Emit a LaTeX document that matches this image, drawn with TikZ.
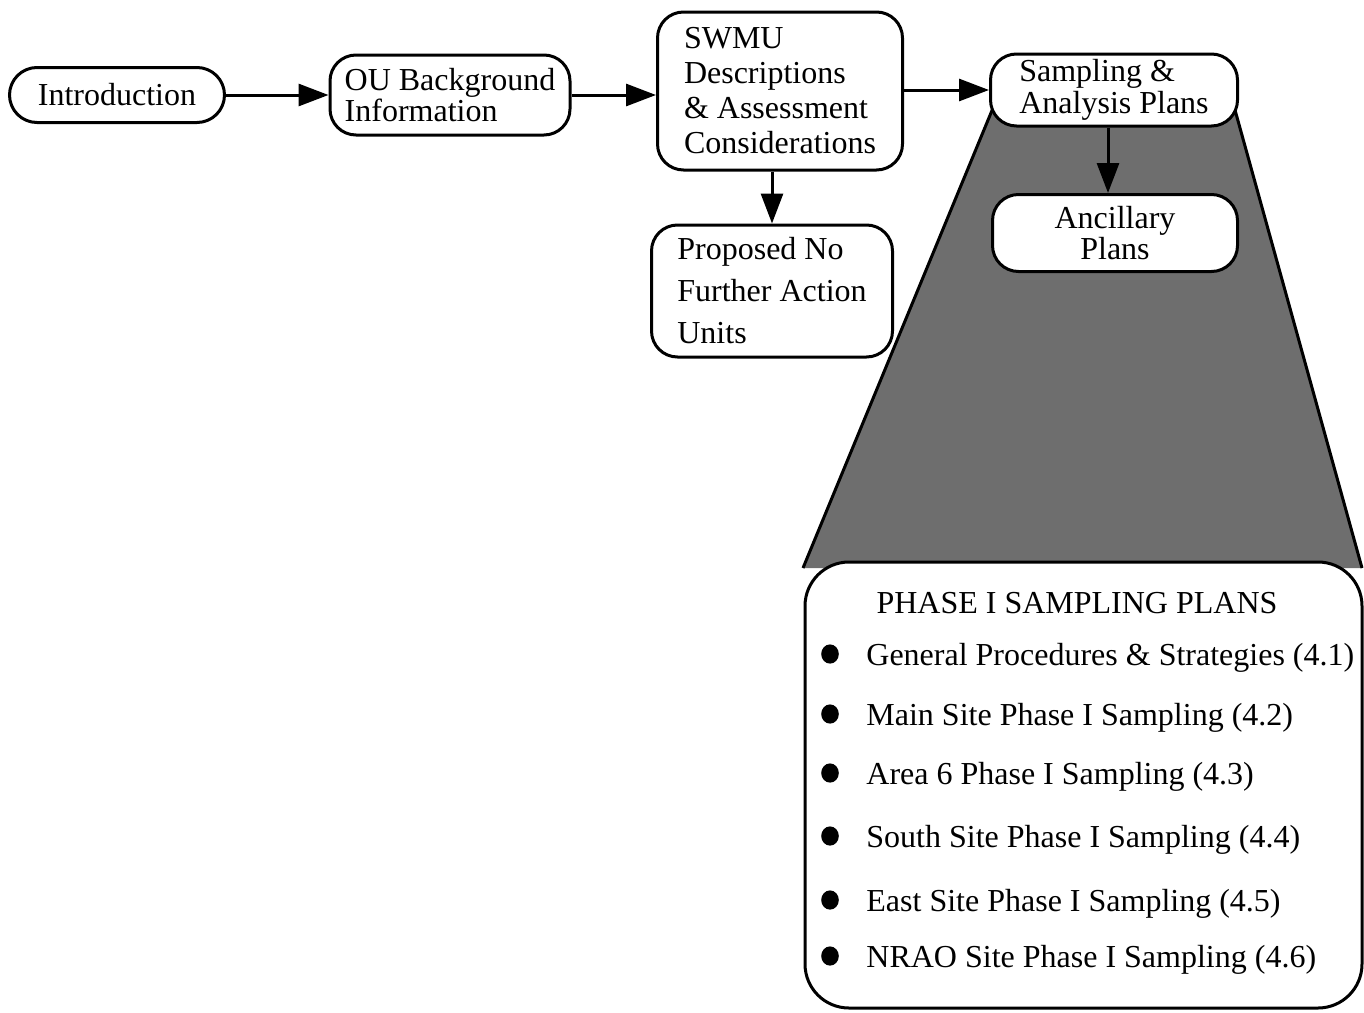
\documentclass[tikz,border=0pt]{standalone}
\usepackage{fontspec}
\setmainfont{Liberation Serif}
\usetikzlibrary{arrows.meta,calc}

\tikzset{
  box/.style={draw=black, line width=1.5pt, fill=white, rounded corners=13pt,
    inner sep=0pt, align=left, font=\fontsize{16}{16}\selectfont},
  flow/.style={draw=black, line width=1.5pt, -{Triangle[length=15pt,width=11pt]}},
  item/.style={anchor=west, inner sep=0pt, font=\fontsize{16}{16}\selectfont},
  dot/.style={fill=black},
}

\begin{document}
\begin{tikzpicture}[x=0.5pt,y=-0.5pt]
\useasboundingbox (0,0) rectangle (1364,1012);

% shaded funnel from the sampling plans down to the phase I list
\fill[black!57] (993,108) -- (803,568) -- (1362,568) -- (1230,92) -- cycle;
\draw[line width=1.5pt] (993,108) -- (803,568);
\draw[line width=1.5pt] (1230,92) -- (1362,568);

% main flow
\node[box, rounded corners=13.75pt, minimum width=107.5pt, minimum height=27.5pt, align=center]
  (intro) at (117,95) {Introduction};
\node[box, minimum width=120pt, minimum height=40pt,
  font=\fontsize{16}{15.5}\selectfont] (ou) at (450,95) {OU Background\\Information};
\node[box, minimum width=122.5pt, minimum height=79pt,
  font=\fontsize{16}{17.5}\selectfont] (swmu) at (780,91)
  {SWMU\\Descriptions\\\& Assessment\\Considerations};
\node[box, minimum width=123.5pt, minimum height=36pt] (sap) at (1114,90)
  {Sampling \&\\Analysis Plans};
\node[box, minimum width=122.5pt, minimum height=38.5pt, align=center,
  font=\fontsize{16}{15.5}\selectfont] (anc) at (1115,233) {Ancillary\\Plans};
\node[box, minimum width=120.5pt, minimum height=66pt,
  font=\fontsize{16}{21}\selectfont] (nfa) at (772,291)
  {Proposed No\\Further Action\\Units};

% phase I list box
\node[box, rounded corners=22pt, minimum width=278.5pt, minimum height=223pt]
  (phase) at (1083.5,785) {};
\node[item, anchor=center] (title) at (1077,603) {PHASE I SAMPLING PLANS};
\node[item] (i1) at (866,658) {General Procedures \& Strategies (4.1)};
\node[item] (i2) at (866,718) {Main Site Phase I Sampling (4.2)};
\node[item] (i3) at (866,777) {Area 6 Phase I Sampling (4.3)};
\node[item] (i4) at (866,840) {South Site Phase I Sampling (4.4)};
\node[item] (i5) at (866,904) {East Site Phase I Sampling (4.5)};
\node[item] (i6) at (866,960) {NRAO Site Phase I Sampling (4.6)};
\foreach \n in {i1,i2,i3,i4,i5,i6}
  \fill[dot] ($(\n.west)+(-36,-4)$) ellipse (4.4pt and 4.8pt);

% connectors
\draw[flow] (intro.east) -- (ou.west);
\draw[flow] (ou.east) -- (ou.east -| swmu.west);
\draw[flow] (swmu.east |- sap.west) -- (sap.west);
\draw[flow] (nfa.north |- swmu.south) -- (nfa.north);
\draw[flow] ([xshift=-3.5pt]anc.north |- sap.south) -- ([xshift=-3.5pt]anc.north);
\end{tikzpicture}
\end{document}
